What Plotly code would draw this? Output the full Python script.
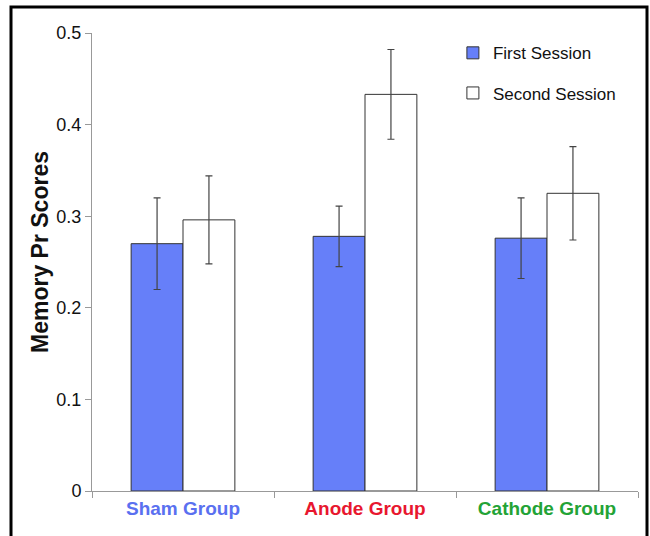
import plotly.graph_objects as go

categories = ["Sham Group", "Anode Group", "Cathode Group"]
category_colors = ["#5A70F0", "#E8172F", "#23A336"]
first_session = [0.270, 0.278, 0.276]
first_err = [0.050, 0.033, 0.044]
second_session = [0.296, 0.433, 0.325]
second_err = [0.048, 0.049, 0.051]
y_ticks = [0, 0.1, 0.2, 0.3, 0.4, 0.5]
y_title = "Memory Pr Scores"

FONT = "Liberation Sans, Arial, sans-serif"

fig = go.Figure()
fig.add_trace(go.Bar(
    name="First Session", x=categories, y=first_session,
    marker=dict(color="#667FF9", line=dict(color="#333333", width=1)),
    error_y=dict(type="data", array=first_err, color="#444444", thickness=1.2, width=3.5),
    legendgroup="a",
))
fig.add_trace(go.Bar(
    name="Second Session", x=categories, y=second_session,
    marker=dict(color="#FFFFFF", line=dict(color="#333333", width=1)),
    error_y=dict(type="data", array=second_err, color="#444444", thickness=1.2, width=3.5),
    legendgroup="b",
))

ticktext = [f"<b><span style='color:{c}'>{t}</span></b>" for t, c in zip(categories, category_colors)]

fig.update_layout(
    width=650, height=536,
    margin=dict(l=92, r=12, t=33, b=45),
    paper_bgcolor="white", plot_bgcolor="white",
    font=dict(family=FONT, color="#111111"),
    barmode="group", bargap=0.43, bargroupgap=0,
    showlegend=True,
    legend=dict(x=0.661, y=0.995, xanchor="left", yanchor="top",
                font=dict(size=17, family=FONT, color="#111111"),
                traceorder="grouped", tracegroupgap=15,
                bgcolor="rgba(0,0,0,0)", itemwidth=30),
    xaxis=dict(
        tickmode="array", tickvals=categories, ticktext=ticktext,
        tickfont=dict(size=19, family=FONT),
        showline=True, linecolor="#999999", linewidth=1,
        ticks="outside", tickson="boundaries", ticklen=6, tickcolor="#999999",
        showgrid=False, zeroline=False,
    ),
    yaxis=dict(
        range=[0, 0.5], tickvals=y_ticks, ticktext=[str(v) for v in y_ticks],
        tickfont=dict(size=18, family=FONT, color="#111111"),
        showline=True, linecolor="#999999", linewidth=1,
        ticks="outside", ticklen=6, tickcolor="#999999",
        showgrid=False, zeroline=False,
    ),
    annotations=[dict(text=f"<b>{y_title}</b>", xref="paper", yref="paper",
                      x=(40 - 92) / 546, y=(491 - 252) / 458,
                      xanchor="center", yanchor="middle", textangle=-90,
                      showarrow=False, font=dict(size=23, family=FONT, color="#111111"))],
    shapes=[dict(type="rect", xref="paper", yref="paper",
                 x0=(11 - 92) / 546, x1=(647 - 92) / 546,
                 y0=-0.3, y1=(491 - 7) / 458,
                 line=dict(color="black", width=3), fillcolor="rgba(0,0,0,0)", layer="above")],
)

fig.write_html(
    "out.html",
    config={"displayModeBar": False},
    post_script="document.body.style.margin='0';document.body.style.overflow='hidden';",
)
